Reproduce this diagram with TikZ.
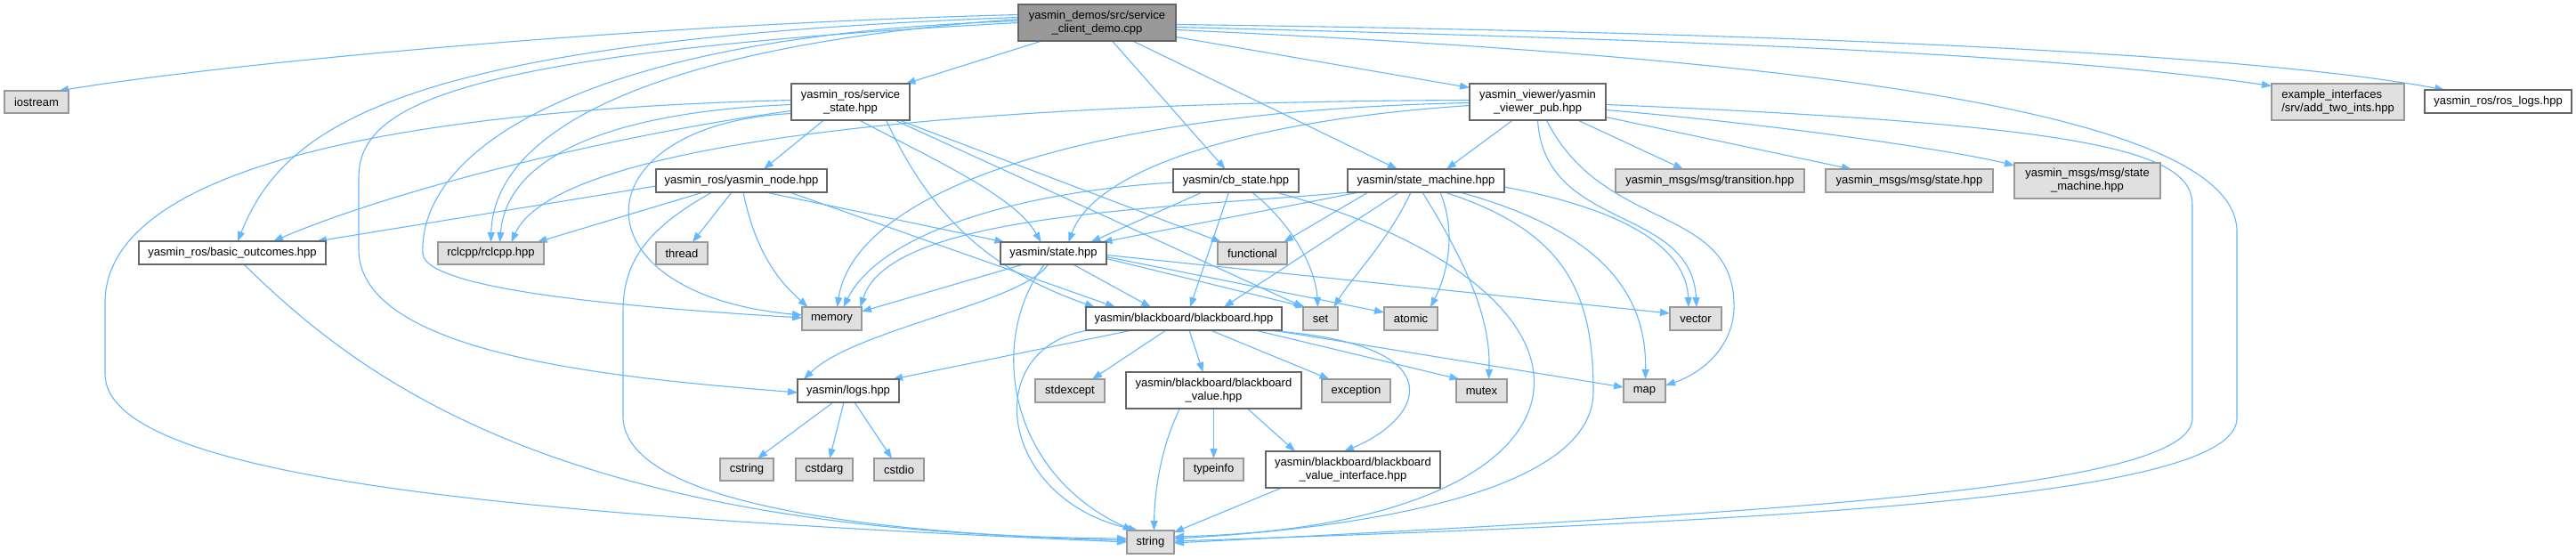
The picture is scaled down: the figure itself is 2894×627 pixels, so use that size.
\documentclass[tikz,border=0pt]{standalone}
\usepackage{fontspec}
\setmainfont{Liberation Sans}
\usetikzlibrary{arrows.meta,backgrounds}
\definecolor{edgeblue}{HTML}{63B8FF}
\definecolor{gfill}{HTML}{E0E0E0}
\definecolor{gdraw}{HTML}{999999}
\definecolor{wdraw}{HTML}{666666}
\definecolor{mfill}{HTML}{999999}
\begin{document}
\begin{tikzpicture}[x=1pt,y=-1pt,
 every node/.style={font=\fontsize{13}{15}\selectfont, inner sep=0pt, outer sep=0pt, align=center},
 wbox/.style={draw=wdraw, fill=white, line width=1.1pt},
 gbox/.style={draw=gdraw, fill=gfill, line width=1.1pt},
 mbox/.style={draw=wdraw, fill=mfill, line width=1.1pt},
 edg/.style={draw=edgeblue, line width=1.1pt, -{Triangle[length=11pt,width=8pt]}}]
\useasboundingbox (0,0) rectangle (2894,627);
% nodes
\node[mbox, minimum width=177pt, minimum height=41pt] (M) at (1232.5,25.5) {yasmin\_demos/src/service\\\_client\_demo.cpp};
\node[gbox, minimum width=72pt, minimum height=25pt] (ios) at (41,114.5) {iostream};
\node[wbox, minimum width=210pt, minimum height=26pt] (bo) at (261,284) {yasmin\_ros/basic\_outcomes.hpp};
\node[gbox, minimum width=119pt, minimum height=25pt] (rcl) at (551.5,284.5) {rclcpp/rclcpp.hpp};
\node[wbox, minimum width=133pt, minimum height=41pt] (ss) at (955.5,114.5) {yasmin\_ros/service\\\_state.hpp};
\node[wbox, minimum width=192pt, minimum height=26pt] (yn) at (833,203) {yasmin\_ros/yasmin\_node.hpp};
\node[gbox, minimum width=58pt, minimum height=25pt] (thr) at (766,284.5) {thread};
\node[wbox, minimum width=141pt, minimum height=26pt] (cb) at (1388.5,203) {yasmin/cb\_state.hpp};
\node[wbox, minimum width=119pt, minimum height=25pt] (st) at (1183.5,284.5) {yasmin/state.hpp};
\node[gbox, minimum width=78pt, minimum height=25pt] (fun) at (1407,284.5) {functional};
\node[wbox, minimum width=153pt, minimum height=41pt] (vp) at (1727.5,114.5) {yasmin\_viewer/yasmin\\\_viewer\_pub.hpp};
\node[wbox, minimum width=176pt, minimum height=26pt] (sm) at (1602,203) {yasmin/state\_machine.hpp};
\node[gbox, minimum width=212pt, minimum height=26pt] (tr) at (1921,203) {yasmin\_msgs/msg/transition.hpp};
\node[gbox, minimum width=188pt, minimum height=26pt] (mst) at (2145,203) {yasmin\_msgs/msg/state.hpp};
\node[gbox, minimum width=164pt, minimum height=40pt] (msm) at (2345,203) {yasmin\_msgs/msg/state\\\_machine.hpp};
\node[gbox, minimum width=149pt, minimum height=41pt, align=left] (ex) at (2626.5,114.5) {example\_interfaces\\/srv/add\_two\_ints.hpp};
\node[wbox, minimum width=165pt, minimum height=26pt] (rl) at (2806.5,114) {yasmin\_ros/ros\_logs.hpp};
\node[gbox, minimum width=67pt, minimum height=26pt] (mem) at (934.5,358) {memory};
\node[wbox, minimum width=220pt, minimum height=26pt] (bb) at (1330,358) {yasmin/blackboard/blackboard.hpp};
\node[wbox, minimum width=114pt, minimum height=26pt] (lg) at (953,439) {yasmin/logs.hpp};
\node[gbox, minimum width=78pt, minimum height=26pt] (sx) at (1202,439) {stdexcept};
\node[wbox, minimum width=197pt, minimum height=41pt] (bbv) at (1363.5,438.5) {yasmin/blackboard/blackboard\\\_value.hpp};
\node[gbox, minimum width=60pt, minimum height=25pt] (cstr) at (839,527.5) {cstring};
\node[gbox, minimum width=64pt, minimum height=25pt] (carg) at (926,527.5) {cstdarg};
\node[gbox, minimum width=56pt, minimum height=25pt] (cio) at (1010,527.5) {cstdio};
\node[gbox, minimum width=67pt, minimum height=25pt] (ti) at (1363.5,527.5) {typeinfo};
\node[gbox, minimum width=53pt, minimum height=26pt] (str) at (1292.5,609) {string};
\node[gbox, minimum width=39pt, minimum height=26pt] (set) at (1483.5,358) {set};
\node[gbox, minimum width=60pt, minimum height=26pt] (atm) at (1585,358) {atomic};
\node[gbox, minimum width=58pt, minimum height=26pt] (vec) at (1905,358) {vector};
\node[gbox, minimum width=77pt, minimum height=26pt] (exc) at (1523.5,439) {exception};
\node[gbox, minimum width=57pt, minimum height=26pt] (mtx) at (1664.5,439) {mutex};
\node[gbox, minimum width=47pt, minimum height=26pt] (map) at (1847.5,439) {map};
\node[wbox, minimum width=196pt, minimum height=41pt] (bbvi) at (1520,527.5) {yasmin/blackboard/blackboard\\\_value\_interface.hpp};
\begin{pgfonlayer}{background}
\fill[white] (0,0) rectangle (2894,627);
% main
\draw[edg] ([yshift=9pt]M.west) .. controls (700,28) and (250,72) .. ([xshift=25pt]ios.north);
\draw[edg] ([yshift=6pt]M.west) .. controls (450,45) and (320,140) .. ([xshift=6pt]bo.north);
\draw[edg] ([yshift=4pt]M.west) .. controls (750,50) and (555,140) .. (rcl.north);
\draw[edg] ([yshift=2pt]M.west) .. controls (650,40) and (470,170) .. (475,285) .. controls (478,325) and (700,345) .. ([yshift=1pt]mem.west);
\draw[edg] (M.west) .. controls (500,60) and (403,120) .. (403,200) -- (403,280) .. controls (403,400) and (700,425) .. ([yshift=-2pt]lg.west);
\draw[edg] ([yshift=-8pt]M.east) .. controls (1900,60) and (2513,110) .. (2513,260) -- (2513,470) .. controls (2513,560) and (2000,585) .. ([yshift=1pt]str.east);
\draw[edg] ([xshift=-62pt]M.south) -- ([xshift=62pt]ss.north);
\draw[edg] ([xshift=17pt]M.south) -- ([xshift=-12pt]cb.north);
\draw[edg] ([xshift=40pt]M.south) -- ([xshift=-32pt]sm.north);
\draw[edg] ([yshift=-16pt]M.east) -- ([yshift=16pt]vp.west);
\draw[edg] ([yshift=-5pt]M.east) .. controls (1900,45) and (2300,60) .. ([yshift=18pt]ex.west);
\draw[edg] ([yshift=-2pt]M.east) .. controls (1900,35) and (2500,55) .. ([xshift=-60pt]rl.north);
% service_state
\draw[edg] ([yshift=-10pt]ss.west) .. controls (700,150) and (450,210) .. ([xshift=46pt]bo.north);
\draw[edg] ([yshift=-3pt]ss.west) .. controls (700,125) and (570,170) .. ([xshift=10pt]rcl.north);
\draw[edg] ([yshift=-13pt]ss.west) .. controls (650,140) and (640,330) .. ([yshift=4pt]mem.west);
\draw[edg] ([yshift=2pt]ss.west) .. controls (400,125) and (118,200) .. (118,340) -- (118,420) .. controls (118,540) and (600,580) .. (str.west);
\draw[edg] ([xshift=-30pt]ss.south) -- ([xshift=25pt]yn.north);
\draw[edg] ([xshift=10pt]ss.south) .. controls (1050,180) and (1140,220) .. ([xshift=-14pt]st.north);
\draw[edg] ([xshift=40pt]ss.south) .. controls (1040,230) and (1100,300) .. ([xshift=-100pt]bb.north);
\draw[edg] ([xshift=50pt]ss.south) -- ([xshift=-19pt]set.north);
\draw[edg] ([xshift=55pt]ss.south) -- ([xshift=-35pt]fun.north);
% yasmin_node
\draw[edg] ([yshift=-6pt]yn.west) -- ([xshift=95pt]bo.north);
\draw[edg] ([xshift=-43pt]yn.south) -- ([xshift=52pt]rcl.north);
\draw[edg] ([xshift=-33pt]yn.south) .. controls (720,260) and (700,300) .. (700,350) -- (700,470) .. controls (705,570) and (1000,600) .. ([yshift=2pt]str.west);
\draw[edg] ([xshift=-11pt]yn.south) -- ([xshift=12pt]thr.north);
\draw[edg] ([xshift=2pt]yn.south) .. controls (850,290) and (880,320) .. ([xshift=-27pt]mem.north);
\draw[edg] ([xshift=27pt]yn.south) -- ([xshift=-55pt]st.north);
\draw[edg] ([xshift=54pt]yn.south) -- ([xshift=-77pt]bb.north);
% cb_state
\draw[edg] ([yshift=-2pt]cb.west) .. controls (1150,215) and (990,260) .. ([xshift=13pt]mem.north);
\draw[edg] ([xshift=-38pt]cb.south) -- ([xshift=42pt]st.north);
\draw[edg] ([xshift=-8pt]cb.south) -- ([xshift=7pt]bb.north);
\draw[edg] ([xshift=18pt]cb.south) .. controls (1450,250) and (1478,300) .. ([xshift=-3pt]set.north);
\draw[edg] ([xshift=45pt]cb.south) .. controls (1850,330) and (1820,590) .. ([yshift=6pt]str.east);
% state_machine
\draw[edg] ([xshift=-85pt]sm.south) .. controls (1300,235) and (1000,240) .. ([xshift=32pt]mem.north);
\draw[edg] ([xshift=-75pt]sm.south) -- ([xshift=55pt]st.north);
\draw[edg] ([xshift=-65pt]sm.south) -- ([xshift=35pt]fun.north);
\draw[edg] ([xshift=-30pt]sm.south) -- ([xshift=45pt]bb.north);
\draw[edg] ([xshift=-17pt]sm.south) .. controls (1560,270) and (1520,310) .. ([xshift=15pt]set.north);
\draw[edg] ([xshift=-4pt]sm.south) .. controls (1650,300) and (1675,360) .. ([xshift=8pt]mtx.north);
\draw[edg] ([xshift=16pt]sm.south) .. controls (1640,270) and (1620,320) .. ([xshift=22pt]atm.north);
\draw[edg] ([xshift=21pt]sm.south) .. controls (1760,260) and (1790,330) .. (1790,440) .. controls (1790,560) and (1500,595) .. ([yshift=4pt]str.east);
\draw[edg] ([xshift=38pt]sm.south) .. controls (1800,260) and (1850,330) .. ([xshift=1pt]map.north);
\draw[edg] ([yshift=-7pt]sm.east) .. controls (1850,240) and (1895,290) .. ([xshift=-8pt]vec.north);
% viewer_pub
\draw[edg] ([yshift=2pt]vp.west) .. controls (1000,115) and (620,170) .. ([xshift=23pt]rcl.north);
\draw[edg] ([yshift=-1pt]vp.west) .. controls (1200,125) and (960,220) .. ([xshift=6pt]mem.north);
\draw[edg] ([yshift=-4pt]vp.west) .. controls (1400,135) and (1230,190) .. ([xshift=17pt]st.north);
\draw[edg] ([xshift=-28pt]vp.south) -- ([xshift=23pt]sm.north);
\draw[edg] (vp.south) .. controls (1735,260) and (1900,230) .. ([xshift=1pt]vec.north);
\draw[edg] ([xshift=10pt]vp.south) .. controls (1800,260) and (1945,230) .. (1948,340) .. controls (1950,390) and (1910,420) .. ([yshift=6pt]map.east);
\draw[edg] ([xshift=45pt]vp.south) -- ([xshift=-30pt]tr.north);
\draw[edg] ([yshift=-17pt]vp.east) -- ([xshift=-65pt]mst.north);
\draw[edg] ([yshift=-9pt]vp.east) .. controls (2000,140) and (2200,170) .. ([yshift=17pt]msm.west);
\draw[edg] ([yshift=-3pt]vp.east) .. controls (2350,140) and (2463,170) .. (2463,230) -- (2463,470) .. controls (2463,550) and (2000,575) .. ([yshift=-1pt]str.east);
% state
\draw[edg] ([xshift=-34pt]st.south) -- ([yshift=8pt]mem.east);
\draw[edg] ([xshift=-6pt]st.south) .. controls (1150,340) and (960,370) .. ([xshift=-50pt]lg.north);
\draw[edg] ([xshift=-10pt]st.south) .. controls (1110,380) and (1130,530) .. ([xshift=-20pt]str.north);
\draw[edg] ([xshift=22pt]st.south) -- ([xshift=-37pt]bb.north);
\draw[edg] ([yshift=-6pt]st.east) -- ([xshift=-17pt]set.north);
\draw[edg] ([yshift=-4pt]st.east) -- ([yshift=7pt]atm.west);
\draw[edg] ([yshift=-2pt]st.east) -- ([yshift=6pt]vec.west);
% blackboard
\draw[edg] ([xshift=-58pt]bb.south) -- ([xshift=50pt]lg.north);
\draw[edg] ([xshift=-107pt]bb.south) .. controls (1100,390) and (1120,560) .. ([xshift=-14pt]str.north);
\draw[edg] ([xshift=-20pt]bb.south) -- ([xshift=25pt]sx.north);
\draw[edg] ([xshift=6pt]bb.south) -- ([xshift=-12pt]bbv.north);
\draw[edg] ([xshift=30pt]bb.south) -- ([xshift=-30pt]exc.north);
\draw[edg] ([xshift=80pt]bb.south) -- ([xshift=-25pt]mtx.north);
\draw[edg] ([xshift=100pt]bb.south) -- ([yshift=4pt]map.west);
\draw[edg] ([xshift=90pt]bb.south) .. controls (1640,385) and (1600,470) .. ([xshift=-10pt]bbvi.north);
% blackboard value
\draw[edg] ([xshift=-38pt]bbv.south) .. controls (1305,500) and (1297,550) .. ([xshift=4pt]str.north);
\draw[edg] (bbv.south) -- (ti.north);
\draw[edg] ([xshift=38pt]bbv.south) -- ([xshift=-65pt]bbvi.north);
\draw[edg] ([xshift=-80pt]bbvi.south) -- ([yshift=11pt]str.east);
% logs
\draw[edg] ([xshift=-17pt]lg.south) -- ([xshift=12pt]cstr.north);
\draw[edg] ([xshift=-5pt]lg.south) -- ([xshift=6pt]carg.north);
\draw[edg] ([xshift=7pt]lg.south) -- ([xshift=-8pt]cio.north);
% basic outcomes
\draw[edg] ([xshift=13pt]bo.south) .. controls (400,420) and (620,600) .. ([yshift=4pt]str.west);
\end{pgfonlayer}
\end{tikzpicture}
\end{document}
